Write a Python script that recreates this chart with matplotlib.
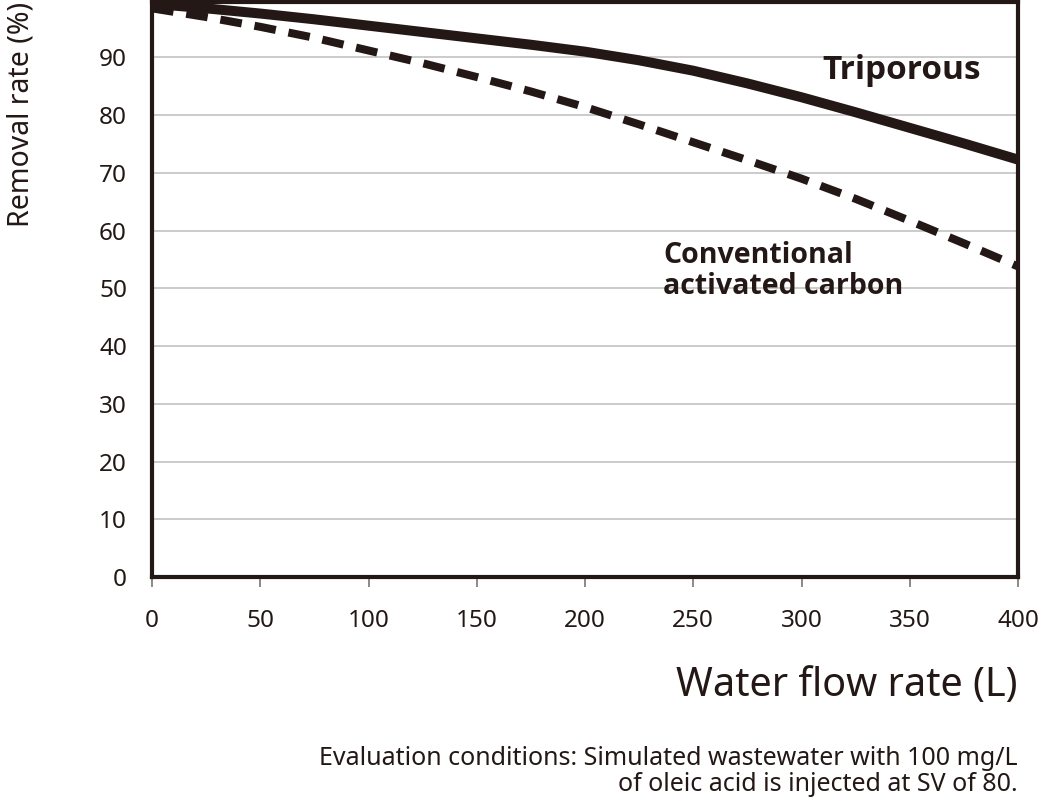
import numpy as np
import matplotlib
matplotlib.use("Agg")
import matplotlib.pyplot as plt

plt.rcParams['font.family'] = ['Noto Sans', 'DejaVu Sans']

# values
flow = [0, 25, 50, 75, 100, 125, 150, 175, 200, 225, 250, 275, 300, 325, 350, 375, 400]
triporous = [99.3, 98.5, 97.6, 96.6, 95.5, 94.4, 93.3, 92.2, 91.0, 89.5, 87.7, 85.5, 83.1, 80.5, 77.8, 75.1, 72.3]
conventional = [98.5, 97.0, 95.3, 93.4, 91.2, 89.0, 86.6, 84.1, 81.4, 78.4, 75.3, 72.2, 69.0, 65.5, 61.7, 57.8, 53.8]
xticks = [0, 50, 100, 150, 200, 250, 300, 350, 400]
yticks = [0, 10, 20, 30, 40, 50, 60, 70, 80, 90]

ink = '#231815'

fig = plt.figure(figsize=(10.41, 8), dpi=100)
ax = fig.add_axes([152/1041, 223/800, 866/1041, 575/800])

ax.plot(flow, triporous, color=ink, lw=7.2, solid_capstyle='butt', solid_joinstyle='round')
ax.plot(flow, conventional, color=ink, lw=5.8, dashes=(2.7, 1.6), dash_capstyle='butt')

ax.set_xlim(0, 400)
ax.set_ylim(0, 99.6)
ax.set_xticks(xticks)
ax.set_yticks(yticks)
ax.grid(axis='y', color='#bdbdbd', lw=1.1)
ax.set_axisbelow(True)

for s in ax.spines.values():
    s.set_color(ink)
    s.set_linewidth(3)

ax.tick_params(axis='x', length=7, width=1.2, color='#777777', pad=16, labelsize=17.5, labelcolor=ink)
ax.tick_params(axis='y', length=0, pad=18, labelsize=17.5, labelcolor=ink)

ax.set_xlabel('Water flow rate (L)', fontsize=28.5, color=ink, loc='right', labelpad=24)
ax.set_ylabel('Removal rate (%)', fontsize=20.5, color=ink, loc='top', labelpad=46)

bold = ['Open Sans', 'DejaVu Sans']
ax.text(309.5, 87.8, 'Triporous', fontsize=24, fontweight='bold', family=bold, color=ink, va='center')
ax.text(236, 53, 'Conventional\nactivated carbon', fontsize=20.5, fontweight='bold', family=bold,
        color=ink, va='center', linespacing=1.1)

fig.text(1018/1041, 1 - 797/800,
         'Evaluation conditions: Simulated wastewater with 100 mg/L\nof oleic acid is injected at SV of 80.',
         fontsize=18, color=ink, ha='right', va='bottom', multialignment='right', linespacing=1.05)

fig.savefig('out.png', dpi=100)
